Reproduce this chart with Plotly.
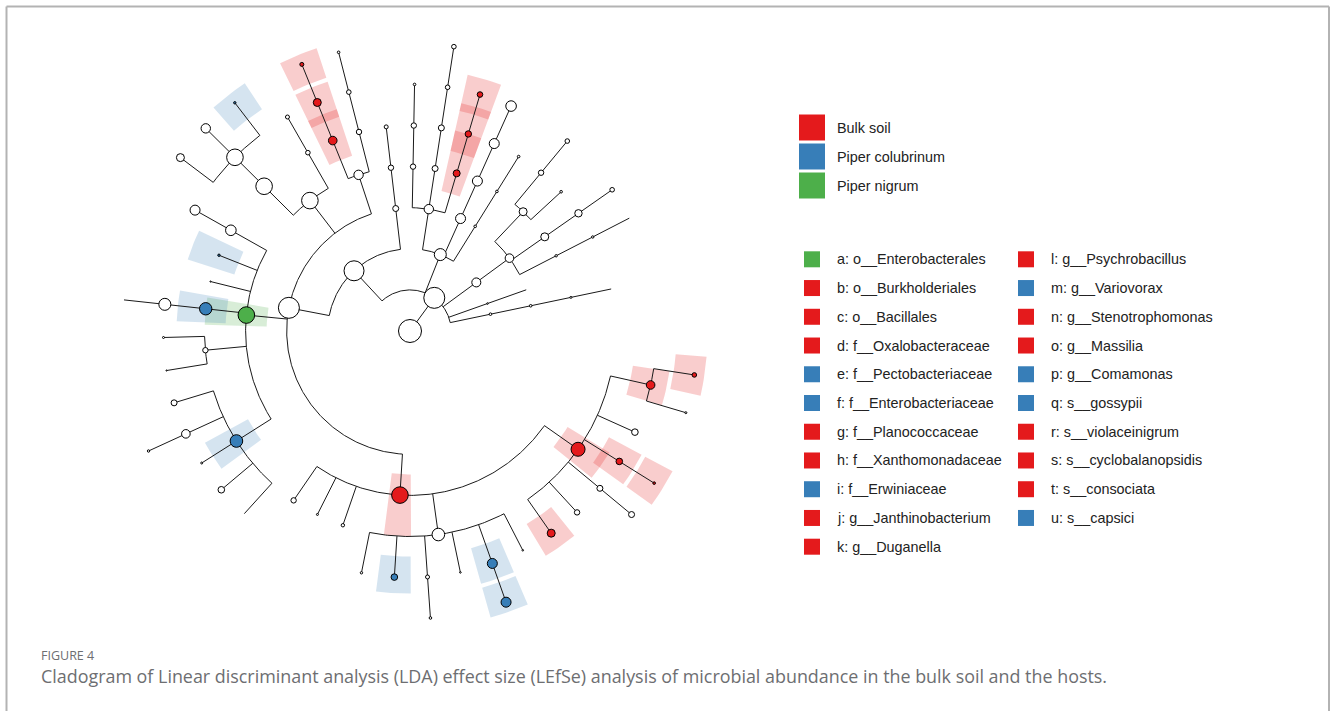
import math
import plotly.graph_objects as go

# ---------------- data ----------------
GROUP_NAMES = ["Bulk soil", "Piper colubrinum", "Piper nigrum"]
GROUP_COLORS = ["#E41A1C", "#377EB8", "#4DAF4A"]
GROUP_SHADES = ["rgba(228,26,28,0.22)", "rgba(55,126,184,0.21)", "rgba(77,175,74,0.22)"]

LEGEND_LEFT = ["a: o__Enterobacterales", "b: o__Burkholderiales", "c: o__Bacillales",
               "d: f__Oxalobacteraceae", "e: f__Pectobacteriaceae", "f: f__Enterobacteriaceae",
               "g: f__Planococcaceae", "h: f__Xanthomonadaceae", "i: f__Erwiniaceae",
               "j: g__Janthinobacterium", "k: g__Duganella"]
LEGEND_LEFT_GROUP = [2, 0, 0, 0, 1, 1, 0, 0, 1, 0, 0]
LEGEND_RIGHT = ["l: g__Psychrobacillus", "m: g__Variovorax", "n: g__Stenotrophomonas",
                "o: g__Massilia", "p: g__Comamonas", "q: s__gossypii", "r: s__violaceinigrum",
                "s: s__cyclobalanopsidis", "t: s__consociata", "u: s__capsici"]
LEGEND_RIGHT_GROUP = [0, 1, 0, 0, 1, 1, 0, 0, 0, 1]

# tree nodes in depth-first order (leaves appear counter-clockwise)
NODE_ID = [
    "root", "bacteria",
    "p4", "p4_c", "p4_o", "p4_f",
    "p5", "p5_c",
    "p3", "p3_c", "p3_o1", "p3_o1f", "p3_o1g", "p3_o2", "p3_o2f", "p3_o2g",
    "p3_o3", "p3_o3f1", "p3_o3f2", "p3_o3g",
    "p2", "p2_c1", "p2_c1o", "p2_c1f", "p2_c2", "p2_c2o", "p2_c2f", "p2_c2g",
    "p2_c3", "c", "g", "l", "p2_c3o2", "p2_c3o2f", "p2_c3o2g", "p2_c3o2s",
    "p2_c3o3", "p2_c3o3f", "p2_c3o3g",
    "p1", "alpha", "alpha_o", "alpha_f", "gamma",
    "xo", "xo_f1", "xo_g1", "xo_s1", "h", "n", "r",
    "o2", "o2_f1", "o2_g1", "o2_f2", "o2_g2", "u", "o2_s2", "o2_s3",
    "a", "a_f1", "a_g1", "e", "a_f3", "f", "f_g", "f_s", "a_f5", "a_f5g1", "a_f5g2",
    "i", "i_g1", "i_g2", "i_s2", "i_g3", "i_g4", "i_g5",
    "b", "b_f1", "b_f2", "b_f3", "b_f4", "b_f4g1", "m", "b_f4g3", "b_f4s3", "b_f4g4",
    "p", "q", "b_f4g6",
    "d", "j", "d_g2", "d_g3", "d_s3", "k", "s", "d_g5", "o", "o_s1", "t",
]
NODE_PARENT = [
    None, "root",
    "bacteria", "p4", "p4_c", "p4_o",
    "bacteria", "p5",
    "bacteria", "p3", "p3_c", "p3_o1", "p3_o1f", "p3_c", "p3_o2", "p3_o2f",
    "p3_c", "p3_o3", "p3_o3", "p3_o3f2",
    "bacteria", "p2", "p2_c1", "p2_c1o", "p2", "p2_c2", "p2_c2o", "p2_c2f",
    "p2", "p2_c3", "c", "g", "p2_c3", "p2_c3o2", "p2_c3o2f", "p2_c3o2g",
    "p2_c3", "p2_c3o3", "p2_c3o3f",
    "bacteria", "p1", "alpha", "alpha_o", "p1",
    "gamma", "xo", "xo_f1", "xo_g1", "xo", "h", "n",
    "gamma", "o2", "o2_f1", "o2", "o2_f2", "o2_g2", "o2_g2", "o2_g2",
    "gamma", "a", "a_f1", "a", "a", "a", "f", "f_g", "a", "a_f5", "a_f5",
    "a", "i", "i", "i_g2", "i", "i", "i",
    "gamma", "b", "b", "b", "b", "b_f4", "b_f4", "b_f4", "b_f4g3", "b_f4",
    "b_f4", "p", "b_f4",
    "b", "d", "d", "d", "d_g3", "d", "k", "d", "d", "o", "o",
]
# circle radius (px) of each node (0 = no visible dot)
NODE_RADIUS = [
    11.5, 10.5,
    1.3, 1.3, 1.0, 0,
    0.8, 0,
    4.5, 4.3, 1.2, 1.2, 0, 4.0, 3.7, 2.3,
    4.0, 1.3, 2.7, 2.3,
    6.0, 1.3, 1.3, 1.3, 5.0, 5.0, 5.0, 5.3,
    4.7, 3.5, 3.2, 2.8, 3.0, 3.0, 2.3, 2.3,
    2.7, 2.7, 1.3,
    10.0, 3.0, 2.7, 2.0, 10.5,
    4.7, 2.7, 2.3, 1.3, 4.3, 4.0, 2.0,
    8.3, 2.3, 2.0, 8.3, 8.3, 1.2, 4.7, 4.0,
    8.3, 5.3, 5.0, 1.2, 0.6, 6.2, 6.0, 0, 2.7, 1.0, 0.6,
    6.3, 3.0, 4.3, 1.2, 1.0, 3.3, 0,
    8.3, 2.7, 1.0, 1.7, 6.3, 1.2, 3.3, 2.0, 1.3, 0.8,
    5.0, 5.0, 0.8,
    7.0, 4.0, 2.7, 3.0, 3.0, 3.3, 1.3, 3.3, 4.3, 1.0, 2.3,
]

CAPTION_TITLE = "FIGURE 4"
CAPTION_TEXT = ("Cladogram of Linear discriminant analysis (LDA) effect size (LEfSe) analysis "
                "of microbial abundance in the bulk soil and the hosts.")

# ---------------- layout parameters ----------------
W, H = 1330, 711
CX, CY = 410.0, 331.0
LEVEL_STEP = 41.1
ANGLE_START = 11.8
ANGLE_STEP = 7.714
WEDGE_HALF_ANGLE = 3.8
WEDGE_INNER = 21
WEDGE_OUTER = {4: 41, 5: 28, 6: 16, 7: 10}
LINE_COLOR = "#1a1a1a"
FONT = "Liberation Sans, Arial, sans-serif"
LEGEND_FONT_SIZE = 14.4

# ---------------- tree layout ----------------
children = {nid: [] for nid in NODE_ID}
for nid, par in zip(NODE_ID, NODE_PARENT):
    if par is not None:
        children[par].append(nid)
depth = {}
for nid, par in zip(NODE_ID, NODE_PARENT):
    depth[nid] = 0 if par is None else depth[par] + 1
angle = {}
leaf_no = 0
for nid in NODE_ID:
    if not children[nid]:
        angle[nid] = ANGLE_START + ANGLE_STEP * leaf_no
        leaf_no += 1
for nid in reversed(NODE_ID):
    if children[nid]:
        angle[nid] = sum(angle[c] for c in children[nid]) / len(children[nid])

group_of = {}
for lab, grp in zip(LEGEND_LEFT + LEGEND_RIGHT, LEGEND_LEFT_GROUP + LEGEND_RIGHT_GROUP):
    group_of[lab.split(":")[0]] = grp


def pxy(r, a):
    t = math.radians(a)
    return CX + r * math.cos(t), CY - r * math.sin(t)


def arc(r, a0, a1, step=0.5):
    n = max(2, int(abs(a1 - a0) / step) + 1)
    return [pxy(r, a0 + (a1 - a0) * i / (n - 1)) for i in range(n)]


fig = go.Figure()

# shaded wedges behind biomarker nodes
for nid in NODE_ID:
    if nid in group_of and depth[nid] > 0:
        g = group_of[nid]
        lv = depth[nid]
        r = lv * LEVEL_STEP
        a = angle[nid]
        pts = arc(r - WEDGE_INNER, a - WEDGE_HALF_ANGLE, a + WEDGE_HALF_ANGLE, 1.0)
        pts += arc(r + WEDGE_OUTER[lv], a + WEDGE_HALF_ANGLE, a - WEDGE_HALF_ANGLE, 1.0)
        pts.append(pts[0])
        fig.add_trace(go.Scatter(
            x=[p[0] for p in pts], y=[p[1] for p in pts], mode="lines",
            fill="toself", fillcolor=GROUP_SHADES[g], line=dict(width=0),
            hoverinfo="skip", showlegend=False))

# branches: radial segments and arcs
lx, ly = [], []
for nid, par in zip(NODE_ID, NODE_PARENT):
    if par is not None:
        p0 = pxy(depth[par] * LEVEL_STEP, angle[nid])
        p1 = pxy(depth[nid] * LEVEL_STEP, angle[nid])
        lx += [p0[0], p1[0], None]
        ly += [p0[1], p1[1], None]
    if children[nid] and depth[nid] > 0:
        angs = [angle[c] for c in children[nid]] + [angle[nid]]
        pts = arc(depth[nid] * LEVEL_STEP, min(angs), max(angs))
        lx += [p[0] for p in pts] + [None]
        ly += [p[1] for p in pts] + [None]
fig.add_trace(go.Scatter(x=lx, y=ly, mode="lines",
                         line=dict(color=LINE_COLOR, width=1),
                         hoverinfo="skip", showlegend=False))

# node circles
mx, my, ms, mc = [], [], [], []
for nid, rad in zip(NODE_ID, NODE_RADIUS):
    if rad <= 0:
        continue
    x, y = pxy(depth[nid] * LEVEL_STEP, angle[nid])
    mx.append(x)
    my.append(y)
    ms.append(2 * rad)
    mc.append(GROUP_COLORS[group_of[nid]] if nid in group_of else "white")
fig.add_trace(go.Scatter(x=mx, y=my, mode="markers",
                         marker=dict(size=ms, color=mc, opacity=1,
                                     line=dict(color="black", width=1)),
                         hoverinfo="skip", showlegend=False))

# class legend (large squares)
annotations = []
for k, (name, col) in enumerate(zip(GROUP_NAMES, GROUP_COLORS)):
    y = 127.5 + 29 * k
    fig.add_trace(go.Scatter(x=[812], y=[y], mode="markers",
                             marker=dict(symbol="square", size=26, color=col, opacity=1,
                                         line=dict(width=0)),
                             hoverinfo="skip", showlegend=False))
    annotations.append(dict(x=835, y=y, text=name, showarrow=False, xanchor="left",
                            yanchor="middle",
                            font=dict(family=FONT, size=LEGEND_FONT_SIZE, color="#222")))

# biomarker legend (two columns)
for col_x, labels, groups in ((812, LEGEND_LEFT, LEGEND_LEFT_GROUP),
                              (1026, LEGEND_RIGHT, LEGEND_RIGHT_GROUP)):
    ys = [259.3 + 28.74 * k for k in range(len(labels))]
    fig.add_trace(go.Scatter(x=[col_x] * len(labels), y=ys, mode="markers",
                             marker=dict(symbol="square", size=16, opacity=1,
                                         color=[GROUP_COLORS[g] for g in groups],
                                         line=dict(width=0)),
                             hoverinfo="skip", showlegend=False))
    for lab, y in zip(labels, ys):
        annotations.append(dict(x=col_x + 23, y=y, text=lab, showarrow=False, xanchor="left",
                                yanchor="middle",
                                font=dict(family=FONT, size=LEGEND_FONT_SIZE, color="#222")))

# caption
annotations.append(dict(x=39, y=655, text=CAPTION_TITLE, showarrow=False, xanchor="left",
                        yanchor="middle", font=dict(family="Open Sans", size=12.5, color="#6d6e71")))
annotations.append(dict(x=39, y=676, text=CAPTION_TEXT, showarrow=False, xanchor="left",
                        yanchor="middle", font=dict(family="Open Sans", size=17.9, color="#6d6e71")))

frame = dict(type="line", xref="x", yref="y", line=dict(color="#b3b3b3", width=2))
shapes = [dict(frame, x0=6.5, y0=6.5, x1=1329, y1=6.5),
          dict(frame, x0=6.5, y0=6.5, x1=6.5, y1=H),
          dict(frame, x0=1329, y0=6.5, x1=1329, y1=H)]

fig.update_layout(
    width=W, height=H, margin=dict(l=0, r=0, t=0, b=0),
    paper_bgcolor="white", plot_bgcolor="white",
    xaxis=dict(range=[0, W], visible=False, fixedrange=True),
    yaxis=dict(range=[H, 0], visible=False, fixedrange=True),
    annotations=annotations, shapes=shapes, showlegend=False,
)
fig.write_html("out.html")
